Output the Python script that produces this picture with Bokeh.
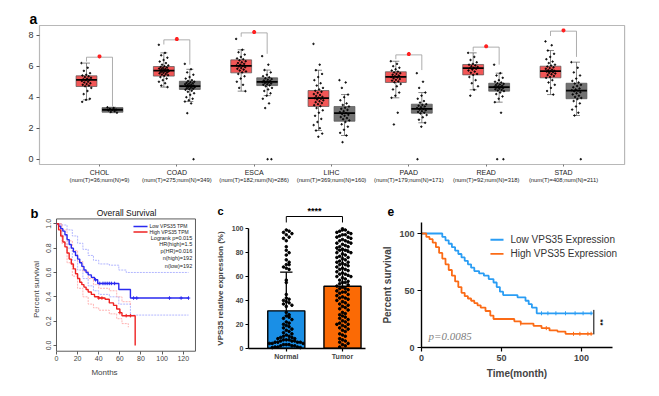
import numpy as np
from bokeh.plotting import figure
from bokeh.layouts import column, row
from bokeh.models import FixedTicker, LinearAxis, PrintfTickFormatter
from bokeh.core.properties import value
from bokeh.embed import file_html
from bokeh.resources import INLINE

FONT = "Liberation Sans"

# ---------------- panel a data ----------------
cancers = ["CHOL", "COAD", "ESCA", "LIHC", "PAAD", "READ", "STAD"]
n_tumor = [36, 275, 182, 369, 179, 92, 408]
n_normal = [9, 349, 286, 160, 171, 318, 211]
t_q1 = [4.69, 5.36, 5.57, 3.40, 4.95, 5.44, 5.25]
t_med = [5.12, 5.72, 6.02, 3.94, 5.31, 5.87, 5.68]
t_q3 = [5.38, 5.98, 6.41, 4.43, 5.64, 6.11, 6.00]
t_lo = [3.83, 4.65, 4.39, 1.85, 3.96, 4.48, 4.17]
t_hi = [6.20, 6.86, 7.06, 5.74, 6.32, 6.86, 7.01]
n_q1 = [3.03, 4.50, 4.75, 2.45, 2.97, 4.39, 3.90]
n_med = [3.19, 4.71, 4.99, 2.97, 3.25, 4.65, 4.43]
n_q3 = [3.33, 5.03, 5.25, 3.40, 3.55, 4.90, 4.90]
n_lo = [3.00, 3.72, 4.10, 1.53, 2.35, 3.68, 2.82]
n_hi = [3.35, 5.80, 5.75, 4.17, 4.30, 5.55, 6.26]
sig_cancers = ["CHOL", "COAD", "ESCA", "PAAD", "READ", "STAD"]
sig_top = [6.58, 7.70, 8.15, 6.73, 7.23, 8.26]
sig_left = [6.30, 7.40, 7.90, 6.45, 6.95, 7.95]
sig_right = [3.40, 6.10, 6.80, 5.75, 6.10, 6.60]
a_yticks = [0, 2, 4, 6, 8]

chol_t = [6.2, 5.9, 5.7, 5.55, 5.45, 5.4, 5.35, 5.3, 5.25, 5.2, 5.15, 5.12, 5.1, 5.05, 5.0, 4.95, 4.9, 4.85, 4.8, 4.75, 4.7, 4.6, 4.4, 4.2, 3.9, 3.83, 3.7]
chol_n = [3.35, 3.3, 3.25, 3.2, 3.19, 3.15, 3.1, 3.05, 3.0]
coad_t = [7.38, 6.86, 6.7, 6.55, 6.4, 6.3, 6.2, 6.1, 6.05, 6.0, 5.95, 5.92, 5.88, 5.85, 5.82, 5.8, 5.78, 5.75, 5.73, 5.72, 5.7, 5.68, 5.66, 5.63, 5.6, 5.57, 5.54, 5.5, 5.46, 5.42, 5.38, 5.3, 5.2, 5.1, 5.0, 4.9, 4.75, 4.65]
coad_n = [6.15, 5.8, 5.6, 5.45, 5.3, 5.2, 5.1, 5.05, 5.0, 4.97, 4.93, 4.9, 4.87, 4.84, 4.81, 4.78, 4.75, 4.73, 4.71, 4.69, 4.67, 4.64, 4.61, 4.58, 4.55, 4.52, 4.48, 4.42, 4.35, 4.25, 4.15, 4.0, 3.9, 3.8, 3.72, 3.6, 2.97, 0.0]
esca_t = [7.76, 7.06, 6.9, 6.75, 6.6, 6.5, 6.45, 6.38, 6.32, 6.25, 6.2, 6.15, 6.1, 6.05, 6.02, 5.98, 5.93, 5.88, 5.83, 5.78, 5.72, 5.66, 5.6, 5.5, 5.35, 5.2, 5.0, 4.8, 4.6, 4.39]
esca_n = [6.65, 6.1, 5.75, 5.6, 5.45, 5.35, 5.28, 5.22, 5.17, 5.12, 5.08, 5.04, 5.0, 4.98, 4.95, 4.92, 4.88, 4.84, 4.8, 4.76, 4.7, 4.6, 4.5, 4.4, 4.25, 4.1, 3.9, 3.6, 3.3, 0.0, 0.0]
lihc_t = [7.44, 6.1, 5.74, 5.5, 5.3, 5.1, 4.9, 4.75, 4.6, 4.5, 4.42, 4.35, 4.28, 4.2, 4.14, 4.08, 4.02, 3.97, 3.94, 3.9, 3.85, 3.8, 3.74, 3.68, 3.62, 3.55, 3.48, 3.42, 3.3, 3.15, 3.0, 2.8, 2.6, 2.4, 2.2, 2.0, 1.85, 1.65, 1.45]
lihc_n = [5.1, 4.95, 4.6, 4.17, 4.0, 3.8, 3.6, 3.5, 3.4, 3.32, 3.25, 3.18, 3.1, 3.04, 2.97, 2.92, 2.86, 2.8, 2.72, 2.65, 2.58, 2.5, 2.4, 2.25, 2.1, 1.9, 1.7, 1.53, 1.1]
paad_t = [6.32, 6.15, 6.0, 5.9, 5.8, 5.72, 5.65, 5.6, 5.55, 5.5, 5.45, 5.4, 5.35, 5.31, 5.27, 5.22, 5.17, 5.12, 5.07, 5.02, 4.96, 4.85, 4.7, 4.5, 4.3, 4.1, 3.96, 3.0, 2.24]
paad_n = [5.55, 5.0, 4.6, 4.3, 4.1, 3.9, 3.75, 3.65, 3.55, 3.5, 3.45, 3.4, 3.35, 3.3, 3.25, 3.2, 3.15, 3.1, 3.05, 3.0, 2.95, 2.85, 2.7, 2.55, 2.35, 2.1, 0.0]
read_t = [6.86, 6.6, 6.4, 6.25, 6.15, 6.1, 6.05, 6.0, 5.95, 5.9, 5.87, 5.83, 5.78, 5.72, 5.65, 5.58, 5.5, 5.44, 5.3, 5.1, 4.9, 4.7, 4.48, 4.1]
read_n = [6.1, 5.55, 5.4, 5.25, 5.1, 5.0, 4.95, 4.9, 4.86, 4.82, 4.78, 4.74, 4.7, 4.67, 4.65, 4.62, 4.59, 4.55, 4.51, 4.47, 4.43, 4.39, 4.3, 4.2, 4.05, 3.9, 3.68, 3.0, 0.0, 0.0]
stad_t = [7.6, 7.35, 7.01, 6.8, 6.6, 6.45, 6.3, 6.2, 6.1, 6.04, 5.98, 5.93, 5.88, 5.83, 5.78, 5.74, 5.7, 5.68, 5.65, 5.61, 5.57, 5.53, 5.48, 5.43, 5.37, 5.3, 5.25, 5.1, 4.95, 4.8, 4.6, 4.4, 4.17]
stad_n = [6.26, 5.9, 5.6, 5.4, 5.2, 5.05, 4.95, 4.88, 4.8, 4.72, 4.64, 4.56, 4.5, 4.45, 4.43, 4.38, 4.32, 4.25, 4.18, 4.1, 4.02, 3.95, 3.88, 3.75, 3.6, 3.4, 3.2, 3.0, 2.82, 0.0]
tumor_pts = [chol_t, coad_t, esca_t, lihc_t, paad_t, read_t, stad_t]
normal_pts = [chol_n, coad_n, esca_n, lihc_n, paad_n, read_n, stad_n]

# ---------------- panel b data ----------------
b_low_t = [0, 2, 4, 6, 8, 10, 12, 14, 16, 18, 20, 22, 24, 26, 28, 30, 33, 36, 39, 59, 70, 125]
b_low_s = [1.0, 0.98, 0.96, 0.94, 0.91, 0.87, 0.83, 0.80, 0.77, 0.74, 0.71, 0.68, 0.65, 0.62, 0.60, 0.58, 0.56, 0.54, 0.51, 0.46, 0.39, 0.39]
b_high_t = [0, 2, 4, 6, 8, 10, 12, 14, 16, 18, 20, 22, 24, 26, 28, 30, 33, 36, 40, 46, 50, 54, 57, 60, 62, 74.5]
b_high_s = [1.0, 0.95, 0.90, 0.85, 0.81, 0.76, 0.71, 0.67, 0.63, 0.59, 0.55, 0.52, 0.50, 0.48, 0.46, 0.44, 0.42, 0.40, 0.39, 0.38, 0.35, 0.33, 0.30, 0.27, 0.245, 0.0]
b_low_up_t = [0, 5, 10, 15, 20, 25, 30, 35, 40, 50, 59, 66, 125]
b_low_up_s = [1.0, 0.99, 0.95, 0.90, 0.84, 0.79, 0.74, 0.70, 0.67, 0.66, 0.62, 0.60, 0.60]
b_low_dn_t = [0, 5, 10, 15, 20, 25, 30, 35, 40, 50, 59, 70, 125]
b_low_dn_s = [1.0, 0.90, 0.80, 0.70, 0.62, 0.55, 0.49, 0.45, 0.42, 0.40, 0.34, 0.25, 0.25]
b_high_up_t = [0, 5, 10, 15, 20, 25, 30, 35, 40, 50, 57, 62, 70]
b_high_up_s = [1.0, 0.95, 0.86, 0.78, 0.69, 0.61, 0.55, 0.50, 0.47, 0.45, 0.40, 0.36, 0.33]
b_high_dn_t = [0, 5, 10, 15, 20, 25, 30, 35, 40, 50, 57, 62, 68]
b_high_dn_s = [1.0, 0.84, 0.68, 0.57, 0.47, 0.40, 0.34, 0.31, 0.29, 0.26, 0.22, 0.18, 0.15]
b_low_cens = [37, 41, 44, 46, 48, 50, 52, 55, 73, 76, 107, 118, 125]
b_high_cens = [40, 43, 60, 66, 70]
b_legend = ["Low VPS35 TPM", "High VPS35 TPM"]
b_stats = ["Logrank p=0.015", "HR(high)=1.5", "p(HR)=0.016", "n(high)=192", "n(low)=192"]
b_xticks = [0, 20, 40, 60, 80, 100, 120]
b_yticks = [0.0, 0.2, 0.4, 0.6, 0.8, 1.0]

# ---------------- panel c data ----------------
c_groups = ["Normal", "Tumor"]
c_means = [31.3, 51.9]
c_sd = [32.4, 30.5]
c_normal = [99, 98, 97, 96, 95, 93, 92, 90, 85, 82, 80, 78, 74, 72, 70, 70, 68, 67, 66, 57, 55, 45, 42, 41, 40, 39, 38, 37,
            36, 35, 30, 28, 27, 26, 25, 24, 22, 21, 20, 19, 18, 17, 16, 15, 14, 13, 12, 11, 10, 10, 9, 9, 8, 8, 7, 7, 7,
            6, 6, 6, 5, 5, 5, 5, 4, 4, 4, 3, 3, 3, 2, 2, 2, 1, 1, 1, 0.5, 0.5]
c_tumor = [100, 99, 99, 98, 97, 97, 96, 95, 95, 94, 93, 93, 92, 91, 90, 90, 89, 88, 88, 87, 86, 85, 85, 84, 83, 82, 82, 81,
           80, 80, 79, 78, 77, 76, 76, 75, 74, 73, 72, 72, 71, 70, 70, 69, 68, 67, 66, 66, 65, 64, 63, 62, 62, 61, 60, 60,
           59, 58, 57, 56, 55, 55, 54, 53, 52, 51, 50, 50, 49, 48, 47, 47, 46, 45, 44, 43, 42, 42, 41, 40, 39, 38, 37, 36,
           35, 34, 33, 32, 30, 29, 28, 27, 26, 25, 24, 23, 22, 21, 20, 20, 19, 18, 17, 16, 15, 14, 12, 11, 10, 8, 7, 6, 5,
           4, 3, 2, 1]
c_yticks = [0, 20, 40, 60, 80, 100]

# ---------------- panel e data ----------------
e_low_t = [0, 13, 15, 17, 19, 21, 23, 25, 27, 29, 31, 33, 36, 39, 42, 45, 47, 49, 51, 55, 60, 65, 67, 69, 72, 107]
e_low_s = [100, 97, 94, 91, 88, 85, 82, 79, 76, 73, 70, 67, 65, 63, 60, 57, 53, 49, 46, 46, 44, 41, 38, 35, 30, 30]
e_high_t = [0, 3, 5, 7, 9, 11, 13, 15, 17, 19, 21, 23, 25, 27, 29, 31, 33, 35, 37, 40, 43, 45, 58, 62, 70, 75, 80, 85, 90, 107]
e_high_s = [100, 97, 95, 92, 88, 83, 78, 73, 68, 63, 58, 53, 48, 45, 43, 41, 39, 37, 35, 32, 28, 25, 23, 21, 19, 17, 15, 14, 12, 12]
e_low_cens = [75, 79, 84, 90, 96, 101, 106]
e_high_cens = [62, 78, 95, 99, 104, 106]
e_legend = ["Low VPS35 Expression", "High VPS35 Expression"]
e_ticks = [0, 50, 100]


def base_fig(w, h, xr, yr):
    p = figure(width=w, height=h, x_range=xr, y_range=yr, toolbar_location=None, output_backend="svg",
               min_border_left=0, min_border_right=0, min_border_top=0, min_border_bottom=0)
    p.xgrid.visible = False
    p.ygrid.visible = False
    p.outline_line_color = None
    p.background_fill_color = "white"
    p.border_fill_color = "white"
    for ax in (p.xaxis[0], p.yaxis[0]):
        ax.major_label_text_font = FONT
        ax.axis_label_text_font = FONT
        ax.minor_tick_line_color = None
        ax.major_tick_in = 0
    return p


def letter(p, txt, x, y, size):
    p.text(x=[x], y=[y], text=[txt], text_font=value(FONT), text_font_style="bold",
           text_font_size=size, text_color="black", text_baseline="alphabetic")


def step_at(t, s, q):
    t = np.asarray(t, float)
    s = np.asarray(s, float)
    idx = np.searchsorted(t, np.asarray(q, float), side="right") - 1
    return s[np.clip(idx, 0, len(s) - 1)]


def swarm(vals, bin_w, stepw):
    vals = np.asarray(vals, float)
    off = np.zeros(len(vals))
    bins = np.floor(vals / bin_w).astype(int)
    for b in np.unique(bins):
        idx = np.where(bins == b)[0]
        for k, i in enumerate(idx):
            m = (k + 1) // 2
            off[i] = m * stepw * (1 if k % 2 else -1)
    return off


# ================= panel a =================
# the whole figure is the frame; axes are placed with fixed_location
pa = base_fig(643, 182, (-0.1768, 8.138), (-2.0194, 9.7226))
a_panel_x = (0.224, 7.79)
a_panel_y = (-0.342, 8.626)
pa.quad(left=[a_panel_x[0]], right=[a_panel_x[1]], bottom=[a_panel_y[0]], top=[a_panel_y[1]],
        fill_color=None, line_color="#b8b8b8", line_width=1.2)
xs = np.arange(1, len(cancers) + 1, dtype=float)
tx = xs - 0.168
nx = xs + 0.168
bw = 0.27
cw = 0.09
for cx, q1, md, q3, lo, hi, col in ((tx, t_q1, t_med, t_q3, t_lo, t_hi, "#f25656"),
                                     (nx, n_q1, n_med, n_q3, n_lo, n_hi, "#727272")):
    pa.segment(cx, q3, cx, hi, color="#555555", line_width=0.7)
    pa.segment(cx, q1, cx, lo, color="#555555", line_width=0.7)
    pa.segment(cx - cw / 2, hi, cx + cw / 2, hi, color="#555555", line_width=0.7)
    pa.segment(cx - cw / 2, lo, cx + cw / 2, lo, color="#555555", line_width=0.7)
    pa.vbar(x=cx, width=bw, bottom=q1, top=q3, fill_color=col, line_color="#555555", line_width=0.7)

px, py = [], []
for i in range(len(cancers)):
    for vals, cx in ((tumor_pts[i], tx[i]), (normal_pts[i], nx[i])):
        v = np.asarray(vals, float)
        jit = ((np.arange(len(v)) * 0.618034) % 1.0 - 0.5) * 0.13
        px.extend(cx + jit)
        py.extend(v)
pa.scatter(px, py, size=1.5, color="black", alpha=0.85)
for cx, md in ((tx, t_med), (nx, n_med)):
    pa.segment(cx - bw / 2, md, cx + bw / 2, md, color="black", line_width=1.8)

si = np.array([cancers.index(c) for c in sig_cancers])
pa.segment(tx[si], sig_top, nx[si], sig_top, color="#999999", line_width=0.8)
pa.segment(tx[si], sig_top, tx[si], sig_left, color="#999999", line_width=0.8)
pa.segment(nx[si], sig_top, nx[si], sig_right, color="#999999", line_width=0.8)
pa.scatter(xs[si], np.asarray(sig_top) + 0.05, marker="asterisk", size=4, line_width=1.3, color="#ff2020")

pa.yaxis.ticker = FixedTicker(ticks=a_yticks)
pa.yaxis.fixed_location = a_panel_x[0]
pa.yaxis.axis_line_color = None
pa.yaxis.major_tick_out = 3
pa.yaxis.major_tick_line_color = "#555555"
pa.yaxis.major_label_text_font_size = "9px"
pa.yaxis.major_label_text_color = "#333333"
pa.yaxis.major_label_standoff = 3
pa.xaxis.ticker = FixedTicker(ticks=list(xs))
pa.xaxis.fixed_location = a_panel_y[0]
pa.xaxis.major_label_overrides = {int(x): c for x, c in zip(xs, cancers)}
pa.xaxis.axis_line_color = None
pa.xaxis.major_tick_out = 2
pa.xaxis.major_tick_line_color = "#777777"
pa.xaxis.major_label_text_font_size = "7px"
pa.xaxis.major_label_text_color = "#222222"
pa.xaxis.major_label_standoff = 2
sub_labels = ["(num(T)=%d;num(N)=%d)" % (a, b) for a, b in zip(n_tumor, n_normal)]
sub = LinearAxis(ticker=FixedTicker(ticks=list(xs)), fixed_location=-1.18,
                 major_label_overrides={int(x): s for x, s in zip(xs, sub_labels)},
                 axis_line_color=None, major_tick_out=0, major_tick_in=0, minor_tick_line_color=None,
                 major_label_standoff=0, major_label_text_font=FONT, major_label_text_font_size="5.8px",
                 major_label_text_color="#222222")
pa.add_layout(sub, "below")
letter(pa, "a", 0.095, 9.06, "14px")

# ================= panel b =================
pb = base_fig(192, 198, (-45.45, 136.36), (-0.3533, 1.2736))
b_box_x = (0.0, 131.6)
b_box_y = (-0.047, 1.04)
pb.quad(left=[b_box_x[0]], right=[b_box_x[1]], bottom=[b_box_y[0]], top=[b_box_y[1]],
        fill_color=None, line_color="#333333", line_width=0.8)
blue_b, red_b = "#2a2af0", "#ee2222"
pb.step(b_low_up_t, b_low_up_s, mode="after", color="#9fa4ff", line_width=0.8, line_dash="2 1")
pb.step(b_low_dn_t, b_low_dn_s, mode="after", color="#9fa4ff", line_width=0.8, line_dash="2 1")
pb.step(b_high_up_t, b_high_up_s, mode="after", color="#ff9f9f", line_width=0.8, line_dash="2 1")
pb.step(b_high_dn_t, b_high_dn_s, mode="after", color="#ff9f9f", line_width=0.8, line_dash="2 1")
pb.step(b_low_t, b_low_s, mode="after", color=blue_b, line_width=1.4)
pb.step(b_high_t, b_high_s, mode="after", color=red_b, line_width=1.4)
pb.scatter(b_low_cens, step_at(b_low_t, b_low_s, b_low_cens), marker="cross", size=3.5, color=blue_b, line_width=1)
pb.scatter(b_high_cens, step_at(b_high_t, b_high_s, b_high_cens), marker="cross", size=3.5, color=red_b, line_width=1)
leg_y = [0.978, 0.933]
pb.segment([72.9, 72.9], leg_y, [86.2, 86.2], leg_y, color=[blue_b, red_b], line_width=1.4)
pb.text(x=[88.1, 88.1], y=leg_y, text=b_legend, text_baseline="middle", text_font=value(FONT),
        text_font_size="5px", text_color="#222222")
pb.text(x=[128.5] * len(b_stats), y=[0.885, 0.832, 0.78, 0.72, 0.657], text=b_stats,
        text_align="right", text_baseline="middle", text_font=value(FONT), text_font_size="5.5px", text_color="#222222")
pb.text(x=[66.3], y=[1.085], text=["Overall Survival"], text_align="center", text_baseline="middle",
        text_font=value(FONT), text_font_size="8.5px", text_color="#111111")
pb.xaxis.ticker = FixedTicker(ticks=b_xticks)
pb.xaxis.fixed_location = b_box_y[0]
pb.yaxis.ticker = FixedTicker(ticks=b_yticks)
pb.yaxis.fixed_location = b_box_x[0]
pb.yaxis.formatter = PrintfTickFormatter(format="%.1f")
pb.yaxis.major_label_orientation = "vertical"
for ax in (pb.xaxis[0], pb.yaxis[0]):
    ax.axis_line_color = None
    ax.major_tick_out = 3
    ax.major_tick_line_color = "#333333"
    ax.major_tick_line_width = 0.8
    ax.major_label_text_font_size = "7px"
    ax.major_label_standoff = 2
    ax.axis_label_text_font_size = "8px"
    ax.axis_label_text_font_style = "normal"
    ax.axis_label_standoff = 3
pb.xaxis.axis_label = "Months"
pb.yaxis.axis_label = "Percent survival"
letter(pb, "b", -24.6, 1.085, "13px")

# ================= panel c =================
pc = base_fig(172, 198, (-0.527, 2.534), (-33.75, 132.08))
cx_c = np.array([1.0, 2.0])
pc.vbar(x=cx_c, top=c_means, width=0.66, fill_color=["#1a8fe6", "#fb6a05"], line_color="black", line_width=1.4)
upper = np.asarray(c_means) + np.asarray(c_sd)
pc.segment(cx_c, c_means, cx_c, upper, color="black", line_width=1.3)
pc.segment(cx_c - 0.11, upper, cx_c + 0.11, upper, color="black", line_width=1.3)
for vals, cx in ((c_normal, 1.0), (c_tumor, 2.0)):
    pc.scatter(cx + swarm(vals, 4.0, 0.05), vals, size=2.6, color="black")
pc.segment([1, 1, 2], [110.3, 110.3, 110.3], [2, 1, 2], [110.3, 105.3, 105.3], color="black", line_width=1)
pc.text(x=[1.5], y=[110.8], text=["****"], text_align="center", text_baseline="bottom",
        text_font=value(FONT), text_font_style="bold", text_font_size="9px")
pc.xaxis.ticker = FixedTicker(ticks=[1, 2])
pc.xaxis.major_label_overrides = {1: c_groups[0], 2: c_groups[1]}
pc.xaxis.bounds = (0.3274, 2.41)
pc.xaxis.fixed_location = 0
pc.yaxis.ticker = FixedTicker(ticks=c_yticks)
pc.yaxis.bounds = (0, 100)
pc.yaxis.fixed_location = 0.3274
for ax in (pc.xaxis[0], pc.yaxis[0]):
    ax.axis_line_color = "black"
    ax.axis_line_width = 1.4
    ax.major_tick_out = 3
    ax.major_tick_line_width = 1.2
    ax.major_label_text_font_size = "7px"
    ax.major_label_text_font_style = "bold"
    ax.major_label_standoff = 2
pc.yaxis.axis_label = "VPS35 relative expression (%)"
pc.yaxis.axis_label_text_font_size = "8px"
pc.yaxis.axis_label_text_font_style = "bold"
pc.yaxis.axis_label_standoff = 4
letter(pc, "c", -0.224, 114.5, "11px")

# ================= panel e =================
pe = base_fig(279, 198, (-30.625, 143.75), (-35.96, 137.72))
blue_e, orange_e = "#2a9df4", "#fb6b16"
pe.step(e_low_t, e_low_s, mode="after", color=blue_e, line_width=1.8)
pe.step(e_high_t, e_high_s, mode="after", color=orange_e, line_width=1.8)
pe.scatter(e_low_cens, step_at(e_low_t, e_low_s, e_low_cens), marker="dash", angle=np.pi / 2, size=4, color=blue_e, line_width=1)
pe.scatter(e_high_cens, step_at(e_high_t, e_high_s, e_high_cens), marker="dash", angle=np.pi / 2, size=4, color=orange_e, line_width=1)
eleg_y = [94.5, 82.2]
pe.segment([43.1, 43.1], eleg_y, [51.25, 51.25], eleg_y, color=[blue_e, orange_e], line_width=1.8)
pe.text(x=[55.6, 55.6], y=eleg_y, text=e_legend, text_baseline="middle", text_font=value(FONT),
        text_font_size="10px", text_color="#333333")
pe.segment([107.7], [11.5], [107.7], [33], color="black", line_width=1)
pe.text(x=[111.8], y=[22], text=["**"], angle=-np.pi / 2, text_align="center", text_baseline="middle",
        text_font=value(FONT), text_font_style="bold", text_font_size="8px")
pe.text(x=[4.4], y=[9.9], text=["p=0.0085"], text_baseline="middle", text_font=value("Liberation Serif"),
        text_font_style="italic", text_font_size="11px", text_color="#808080")
pe.xaxis.ticker = FixedTicker(ticks=e_ticks)
pe.xaxis.bounds = (0, 119.4)
pe.xaxis.fixed_location = 0
pe.yaxis.ticker = FixedTicker(ticks=e_ticks)
pe.yaxis.bounds = (0, 109.6)
pe.yaxis.fixed_location = 0
for ax in (pe.xaxis[0], pe.yaxis[0]):
    ax.axis_line_color = "black"
    ax.axis_line_width = 1.4
    ax.major_tick_out = 4
    ax.major_tick_line_width = 1.2
    ax.major_label_text_font_size = "9px"
    ax.major_label_text_font_style = "bold"
    ax.major_label_standoff = 3
    ax.axis_label_text_font_size = "10px"
    ax.axis_label_text_font_style = "bold"
pe.xaxis.axis_label = "Time(month)"
pe.xaxis.axis_label_standoff = 4
pe.yaxis.axis_label = "Percent survival"
pe.yaxis.axis_label_standoff = 3
letter(pe, "e", -21.25, 119.7, "12px")

layout = column(pa, row(pb, pc, pe), margin=(8, 8, 8, 8))
open("out.html", "w").write(file_html(layout, INLINE))
